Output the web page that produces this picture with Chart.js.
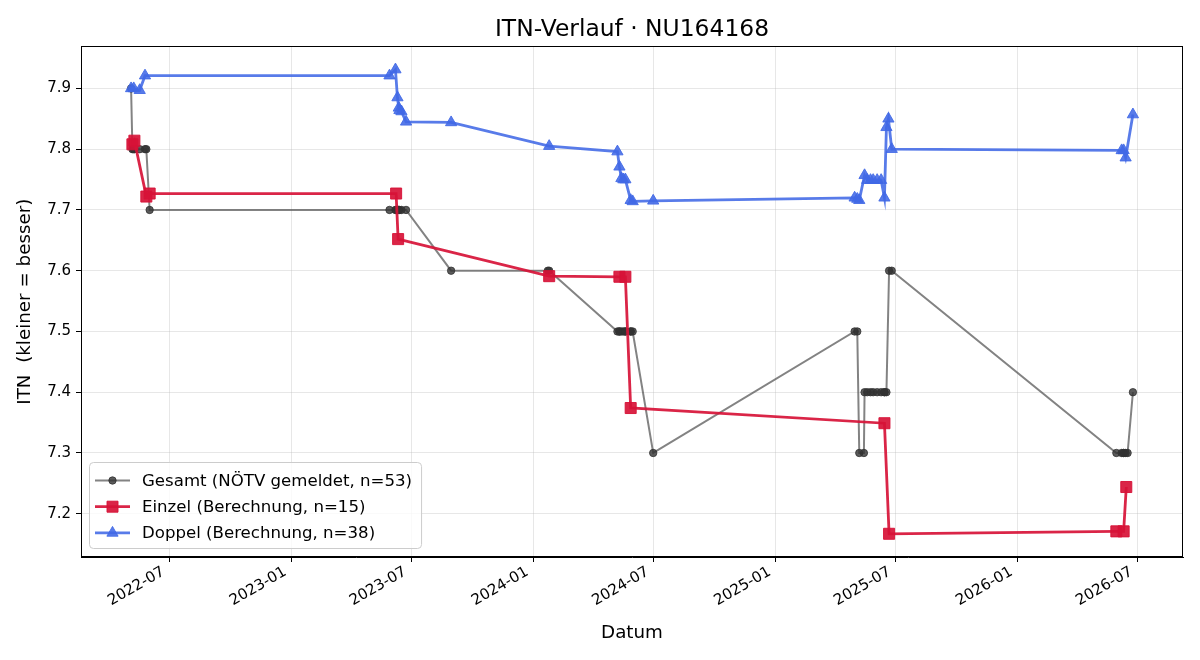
<!DOCTYPE html>
<html>
<head>
<meta charset="utf-8">
<script src="https://cdn.jsdelivr.net/npm/chart.js@4.4.1/dist/chart.umd.min.js"></script>
<style>
html,body{margin:0;padding:0;background:#fff;}
#wrap{width:1200px;height:660px;position:relative;}
</style>
</head>
<body>
<div id="wrap"><canvas id="c" width="1200" height="660"></canvas></div>
<script>
// ---------- DATA ----------
const gesamtDates = [
  '2022-05-04','2022-05-06','2022-05-08','2022-05-09','2022-05-17','2022-05-25','2022-05-27','2022-06-01',
  '2023-05-29','2023-06-07','2023-06-08','2023-06-10','2023-06-11','2023-06-12','2023-06-13','2023-06-16','2023-06-23',
  '2023-08-30','2024-01-23','2024-01-25',
  '2024-05-07','2024-05-10','2024-05-10','2024-05-13','2024-05-16','2024-05-19','2024-05-19','2024-05-27','2024-05-27','2024-05-30','2024-06-30',
  '2025-04-30','2025-05-04','2025-05-07','2025-05-14','2025-05-15','2025-05-19','2025-05-24','2025-05-28','2025-06-03','2025-06-09','2025-06-14','2025-06-14','2025-06-17','2025-06-21','2025-06-25',
  '2026-05-30','2026-06-07','2026-06-10','2026-06-10','2026-06-13','2026-06-16','2026-06-24'
];
const gesamtValues = [
  7.9,7.8,7.8,7.8,7.8,7.8,7.8,7.7,
  7.7,7.7,7.7,7.7,7.7,7.7,7.7,7.7,7.7,
  7.6,7.6,7.6,
  7.5,7.5,7.5,7.5,7.5,7.5,7.5,7.5,7.5,7.5,7.3,
  7.5,7.5,7.3,7.3,7.4,7.4,7.4,7.4,7.4,7.4,7.4,7.4,7.4,7.6,7.6,
  7.3,7.3,7.3,7.3,7.3,7.3,7.4
];

const einzelDates = [
  '2022-05-06','2022-05-09','2022-05-27','2022-06-01',
  '2023-06-08','2023-06-11',
  '2024-01-25','2024-05-10','2024-05-19','2024-05-27',
  '2025-06-14','2025-06-21',
  '2026-05-30','2026-06-10','2026-06-14'
];
const einzelValues = [
  7.808,7.814,7.722,7.727,
  7.727,7.652,
  7.591,7.590,7.590,7.374,
  7.349,7.167,
  7.171,7.171,7.244
];

const doppelDates = [
  '2022-05-04','2022-05-08','2022-05-17','2022-05-25',
  '2023-05-29','2023-06-07','2023-06-10','2023-06-12','2023-06-13','2023-06-16','2023-06-23',
  '2023-08-30','2024-01-25',
  '2024-05-07','2024-05-10','2024-05-13','2024-05-16','2024-05-19','2024-05-27','2024-05-30','2024-06-30',
  '2025-04-30','2025-05-04','2025-05-07','2025-05-15','2025-05-19','2025-05-24','2025-05-28','2025-06-03','2025-06-09','2025-06-14','2025-06-17','2025-06-20','2025-06-25',
  '2026-06-07','2026-06-10','2026-06-13','2026-06-24'
];
const doppelValues = [
  7.900,7.900,7.897,7.921,
  7.921,7.931,7.885,7.868,7.864,7.862,7.845,
  7.844,7.805,
  7.796,7.771,7.752,7.750,7.750,7.716,7.714,7.715,
  7.720,7.718,7.716,7.757,7.749,7.749,7.749,7.749,7.749,7.720,7.836,7.850,7.800,
  7.798,7.798,7.786,7.857
];

const seriesLabels = ['Gesamt (NÖTV gemeldet, n=53)','Einzel (Berechnung, n=15)','Doppel (Berechnung, n=38)'];
const yTickValues = [7.2,7.3,7.4,7.5,7.6,7.7,7.8,7.9];
const xTickDates = ['2022-07-01','2023-01-01','2023-07-01','2024-01-01','2024-07-01','2025-01-01','2025-07-01','2026-01-01','2026-07-01'];

// ---------- helpers ----------
function toMs(s){ const p=s.split('-').map(Number); return Date.UTC(p[0],p[1]-1,p[2]); }
function pts(dates, vals){ return dates.map((d,i)=>({x:toMs(d), y:vals[i]})); }

const allX = [].concat(gesamtDates, einzelDates, doppelDates).map(toMs);
const allY = [].concat(gesamtValues, einzelValues, doppelValues);
const xMinD = Math.min(...allX), xMaxD = Math.max(...allX);
const yMinD = Math.min(...allY), yMaxD = Math.max(...allY);
const xPad = (xMaxD-xMinD)*0.05, yPad = (yMaxD-yMinD)*0.05;

const FONT = "'DejaVu Sans', sans-serif";

const colGesamtLine = 'rgba(90,90,90,0.75)';
const colGesamtPt = 'rgba(50,50,50,0.8)';
const colEinzel = 'rgba(215,18,55,0.92)';
const colDoppel = 'rgba(65,105,230,0.88)';

const framePlugin = {
  id:'frame',
  afterDraw(chart){
    const {ctx, chartArea:a} = chart;
    ctx.save();
    ctx.strokeStyle='#000'; ctx.lineWidth=1;
    ctx.strokeRect(Math.round(a.left)+0.5, Math.round(a.top)+0.5, Math.round(a.right-a.left)-1, Math.round(a.bottom-a.top)-1);
    ctx.restore();
  }
};

function drawMarker(ctx, kind, x, y, fill){
  ctx.fillStyle = fill; ctx.strokeStyle = fill; ctx.lineWidth = 1;
  ctx.beginPath();
  if (kind==='circle'){ ctx.arc(x,y,3.7,0,Math.PI*2); }
  else if (kind==='rect'){ ctx.rect(x-5.5,y-5.5,11,11); }
  else { ctx.moveTo(x,y-6.5); ctx.lineTo(x+5.6,y+3.3); ctx.lineTo(x-5.6,y+3.3); ctx.closePath(); }
  ctx.fill(); ctx.stroke();
}

const legendPlugin = {
  id:'customLegend',
  afterDraw(chart){
    const {ctx, chartArea:a} = chart;
    const ds = chart.data.datasets;
    ctx.save();
    ctx.font = "16.6px " + FONT;
    let maxW = 0;
    ds.forEach(d=>{ maxW = Math.max(maxW, ctx.measureText(d.label).width); });
    const bx = a.left + 8, rowH = 26.2;
    const bh = 86;
    const by = a.bottom - 9 - bh;
    const textX = bx + 53;
    const bw = (textX - bx) + maxW + 9;
    ctx.fillStyle='rgba(255,255,255,0.8)';
    ctx.strokeStyle='#cccccc'; ctx.lineWidth=1;
    const r=4;
    ctx.beginPath();
    ctx.moveTo(bx+r+0.5,by+0.5); ctx.lineTo(bx+bw-r+0.5,by+0.5);
    ctx.quadraticCurveTo(bx+bw+0.5,by+0.5,bx+bw+0.5,by+r+0.5);
    ctx.lineTo(bx+bw+0.5,by+bh-r+0.5);
    ctx.quadraticCurveTo(bx+bw+0.5,by+bh+0.5,bx+bw-r+0.5,by+bh+0.5);
    ctx.lineTo(bx+r+0.5,by+bh+0.5);
    ctx.quadraticCurveTo(bx+0.5,by+bh+0.5,bx+0.5,by+bh-r+0.5);
    ctx.lineTo(bx+0.5,by+r+0.5);
    ctx.quadraticCurveTo(bx+0.5,by+0.5,bx+r+0.5,by+0.5);
    ctx.closePath(); ctx.fill(); ctx.stroke();
    const kinds = ['circle','rect','triangle'];
    ds.forEach((d,i)=>{
      const cy = by + 18.5 + i*rowH;
      ctx.strokeStyle = d.borderColor; ctx.lineWidth = d.borderWidth;
      ctx.beginPath(); ctx.moveTo(bx+6,cy); ctx.lineTo(bx+41,cy); ctx.stroke();
      drawMarker(ctx, kinds[i], bx+23.5, cy, d.pointBackgroundColor);
      ctx.fillStyle='#000'; ctx.textBaseline='middle'; ctx.textAlign='left';
      ctx.fillText(d.label, textX, cy+1);
    });
    ctx.restore();
  }
};

new Chart(document.getElementById('c'), {
  type:'line',
  data:{
    datasets:[
      {label:seriesLabels[0], data:pts(gesamtDates,gesamtValues), borderColor:colGesamtLine, borderWidth:2,
       pointStyle:'circle', pointRadius:3.7, pointBackgroundColor:colGesamtPt, pointBorderColor:colGesamtPt, pointBorderWidth:1, order:3, tension:0},
      {label:seriesLabels[1], data:pts(einzelDates,einzelValues), borderColor:colEinzel, borderWidth:2.8,
       pointStyle:'rect', pointRadius:7.8, pointBackgroundColor:colEinzel, pointBorderColor:colEinzel, pointBorderWidth:1, order:2, tension:0},
      {label:seriesLabels[2], data:pts(doppelDates,doppelValues), borderColor:colDoppel, borderWidth:2.8,
       pointStyle:'triangle', pointRadius:6.5, pointBackgroundColor:colDoppel, pointBorderColor:colDoppel, pointBorderWidth:1, order:1, tension:0}
    ]
  },
  options:{
    responsive:false, animation:false, devicePixelRatio:1,
    layout:{padding:{left:0,right:17,top:0,bottom:0}},
    plugins:{
      legend:{display:false}, tooltip:{enabled:false},
      title:{display:true, fullSize:false, text:'ITN-Verlauf · NU164168', color:'#000',
        font:{family:FONT, size:23.4, weight:'normal'}, padding:{top:16,bottom:2.3}}
    },
    scales:{
      x:{type:'linear', min:xMinD-xPad, max:xMaxD+xPad,
        afterBuildTicks(s){ s.ticks = xTickDates.map(d=>({value:toMs(d)})); },
        afterFit(s){ s.height = 103; },
        ticks:{autoSkip:false, minRotation:30, maxRotation:30, padding:1, labelOffset:-6, color:'#000',
          font:{family:FONT, size:15},
          callback(v){ const d=new Date(v); return d.getUTCFullYear()+'-'+String(d.getUTCMonth()+1).padStart(2,'0'); }},
        grid:{color:'rgba(176,176,176,0.3)', lineWidth:1, tickColor:'#000', tickLength:5},
        border:{color:'#000', width:1},
        title:{display:true, text:'Datum', color:'#000', font:{family:FONT, size:18.3}, padding:{top:0,bottom:16}}
      },
      y:{type:'linear', min:yMinD-yPad, max:yMaxD+yPad,
        afterBuildTicks(s){ s.ticks = yTickValues.map(v=>({value:v})); },
        afterFit(s){ s.width = 81; },
        ticks:{padding:5, color:'#000', font:{family:FONT, size:15}, callback(v){ return Number(v).toFixed(1); }},
        grid:{color:'rgba(176,176,176,0.3)', lineWidth:1, tickColor:'#000', tickLength:5},
        border:{color:'#000', width:1},
        title:{display:true, text:'ITN  (kleiner = besser)', color:'#000', font:{family:FONT, size:18.3}, padding:{top:14,bottom:0}}
      }
    }
  },
  plugins:[framePlugin, legendPlugin]
});
</script>
</body>
</html>
